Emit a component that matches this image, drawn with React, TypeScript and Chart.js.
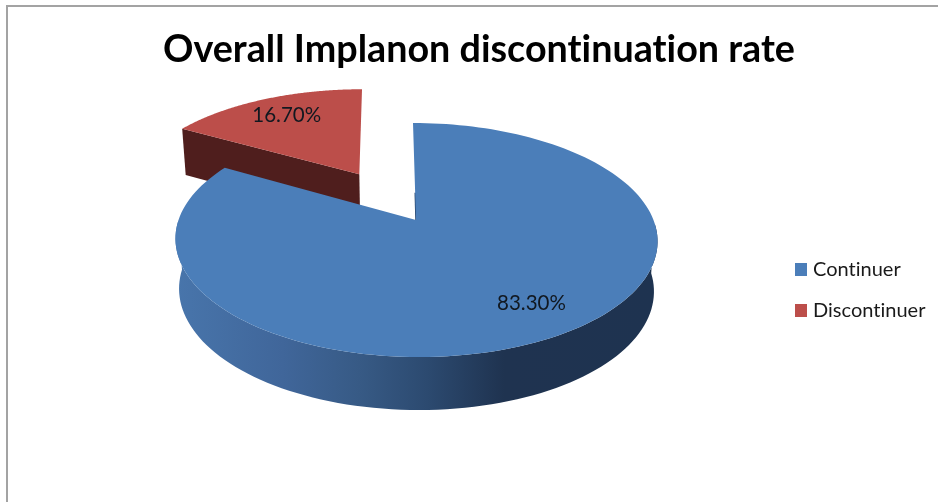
import React, { useEffect, useRef } from "react";
import { Chart, registerables } from "chart.js";

Chart.register(...registerables);

const titleText = "Overall Implanon discontinuation rate";
const categories = ["Continuer", "Discontinuer"];
const shares = [83.3, 16.7];
const faceColors = ["#4b7eb9", "#bc4e4a"];

const FONT = "Lato, Carlito, sans-serif";
const RADIUS = 100;
const EXPLODE = RADIUS * 2; // ArcElement moves a slice by offset / 4

// Perspective of the tilted disc, fitted to the picture
const view = { cx: 416, cy: 220, rx: 237.5, ry: 113.6, p: 0.171, shear: 3 };

function project(u: number, v: number) {
  const d = 1 - view.p * v;
  return { x: view.cx + view.shear * v + (view.rx * u) / d, y: view.cy + (view.ry * v) / d };
}
function projectLow(u: number, v: number) {
  const t = project(u, v);
  return { x: view.cx + 0.985 * (t.x - view.cx), y: t.y + 49.5 + 3.5 * v };
}

function sliceGeometry(el: any) {
  const mid = (el.startAngle + el.endAngle) / 2;
  const off = (el.options.offset || 0) / 4 / el.outerRadius;
  return {
    ou: Math.cos(mid) * off,
    ov: Math.sin(mid) * off,
    start: el.startAngle,
    end: el.endAngle,
    // the pulled-out slice sits a few pixels further left on its rim
    rimShift: off > 0 ? -0.01 : 0,
  };
}

function swatch(color: string) {
  const c = document.createElement("canvas");
  c.width = 12;
  c.height = 13;
  const g = c.getContext("2d") as CanvasRenderingContext2D;
  g.fillStyle = color;
  g.fillRect(0, 0, 12, 13);
  return c;
}

const pie3d = {
  id: "pie3d",
  beforeDraw(chart: any) {
    const { ctx, width, height } = chart;
    ctx.letterSpacing = "0.01px"; // no "ti" ligatures, as in the original face
    ctx.save();
    ctx.fillStyle = "#a3a3a3";
    ctx.fillRect(6, 5, 2, height - 5);
    ctx.fillRect(6, 5, width - 6, 2);
    ctx.restore();
  },
  afterLayout(chart: any) {
    const l = chart.legend;
    const pad = l.options.labels.padding;
    l.left = 799 - pad;
    l.right = 938;
    l.top = 259.5 - pad;
    l.bottom = 500;
  },
  beforeDatasetDraw(chart: any, args: any) {
    const { ctx } = chart;
    const arcs = args.meta.data;
    const order = [1, 0];
    ctx.save();
    for (const i of order) {
      const g = sliceGeometry(arcs[i]);
      const steps = 160;
      const rim: { u: number; v: number }[] = [];
      for (let s = 0; s <= steps; s++) {
        const a = g.start + ((g.end - g.start) * s) / steps;
        rim.push({ u: g.ou + g.rimShift + Math.cos(a), v: g.ov + Math.sin(a) });
      }
      if (i === 1) {
        // front cut face of the pulled-out slice
        const a = rim[0];
        const quad = [project(a.u, a.v), project(g.ou, g.ov), projectLow(g.ou, g.ov), projectLow(a.u, a.v)];
        ctx.fillStyle = "#4f1e1d";
        ctx.beginPath();
        quad.forEach((q, k) => (k ? ctx.lineTo(q.x, q.y) : ctx.moveTo(q.x, q.y)));
        ctx.closePath();
        ctx.fill();
      } else {
        // rim wall (front half only), with the horizontal shading of the original
        const front = rim.filter((r) => r.v >= 0);
        const grad = ctx.createLinearGradient(177, 0, 658, 0);
        grad.addColorStop(0, "#4875ab");
        grad.addColorStop(0.22, "#40669a");
        grad.addColorStop(0.38, "#375a85");
        grad.addColorStop(0.52, "#2c4a70");
        grad.addColorStop(0.68, "#1f3350");
        grad.addColorStop(1, "#1e3350");
        ctx.fillStyle = grad;
        ctx.beginPath();
        front.forEach((r, k) => {
          const q = project(r.u, r.v);
          k ? ctx.lineTo(q.x, q.y) : ctx.moveTo(q.x, q.y);
        });
        for (let k = front.length - 1; k >= 0; k--) {
          const q = projectLow(front[k].u, front[k].v);
          ctx.lineTo(q.x, q.y);
        }
        ctx.closePath();
        ctx.fill();
        // sliver of the cut face beside the gap
        const c0 = project(0, 0);
        const c1 = project(Math.cos(g.start) * 0.25, Math.sin(g.start) * 0.25);
        ctx.strokeStyle = "#27456b";
        ctx.lineWidth = 1.5;
        ctx.beginPath();
        ctx.moveTo(c0.x, c0.y);
        ctx.lineTo(c1.x, c1.y);
        ctx.stroke();
      }
      ctx.fillStyle = arcs[i].options.backgroundColor;
      ctx.beginPath();
      const c = project(g.ou, g.ov);
      ctx.moveTo(c.x, c.y);
      rim.forEach((r) => {
        const q = project(r.u, r.v);
        ctx.lineTo(q.x, q.y);
      });
      ctx.closePath();
      ctx.fill();
    }
    ctx.restore();
    return false;
  },
  afterDraw(chart: any) {
    const { ctx } = chart;
    const values = chart.data.datasets[0].data;
    const spots = [
      { u: 0.425, v: 0.65 },
      { u: -0.63, v: -1.098 },
    ];
    ctx.save();
    ctx.font = `20.5px ${FONT}`;
    ctx.fillStyle = "#111820";
    ctx.textAlign = "center";
    ctx.textBaseline = "middle";
    values.forEach((val: number, i: number) => {
      const q = project(spots[i].u, spots[i].v);
      ctx.fillText(`${val.toFixed(2)}%`, q.x, q.y);
    });
    ctx.restore();
  },
};

export default function App() {
  const ref = useRef<HTMLCanvasElement | null>(null);
  useEffect(() => {
    const base = (Chart as any).overrides.pie.plugins.legend.labels.generateLabels;
    const chart = new Chart(ref.current as HTMLCanvasElement, {
      type: "pie",
      data: {
        labels: categories,
        datasets: [
          {
            data: shares,
            backgroundColor: faceColors,
            borderWidth: 0,
            offset: [0, EXPLODE],
          } as any,
        ],
      },
      plugins: [pie3d],
      options: {
        animation: false,
        responsive: false,
        radius: RADIUS,
        layout: { padding: { left: 20 } },
        plugins: {
          tooltip: { enabled: false },
          title: {
            display: true,
            text: titleText,
            color: "#000000",
            font: { family: FONT, size: 37.7, weight: "bold" },
            padding: { top: 27, bottom: 10 },
          },
          legend: {
            position: "right",
            align: "start",
            labels: {
              usePointStyle: true,
              pointStyleWidth: 4,
              boxHeight: 12,
              padding: 21,
              color: "#1a1a1a",
              font: { family: FONT, size: 20 },
              generateLabels: (c: any) =>
                base(c).map((item: any, i: number) => ({ ...item, pointStyle: swatch(faceColors[i]) })),
            },
          },
        },
      },
    } as any);
    return () => chart.destroy();
  }, []);
  return (
    <canvas
      ref={ref}
      width={938}
      height={502}
      style={{ position: "absolute", left: 0, top: 0, width: 938, height: 502 }}
    />
  );
}
